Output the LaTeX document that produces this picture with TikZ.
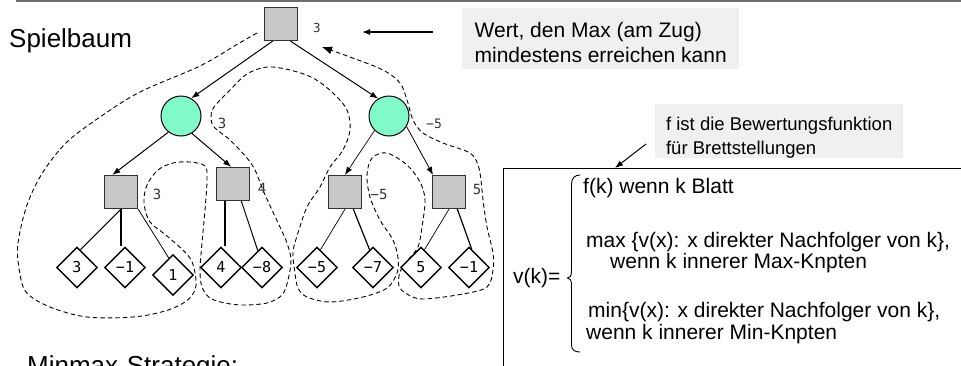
\documentclass[tikz,border=0pt]{standalone}
\usepackage{fontspec}
\setmainfont{Liberation Sans}
\newfontfamily\valfont{DejaVu Sans Mono}
\usetikzlibrary{shapes.geometric,arrows.meta}

\definecolor{minfill}{RGB}{127,250,200}
\definecolor{maxfill}{RGB}{200,200,200}
\definecolor{notefill}{RGB}{240,240,240}
\definecolor{rulegray}{RGB}{110,110,110}

\tikzset{
  maxnode/.style={draw=black!80, line width=1.2pt, fill=maxfill,
    minimum size=33pt, inner sep=0pt},
  minnode/.style={circle, draw=black, line width=1pt, fill=minfill,
    minimum size=40pt, inner sep=0pt},
  leaf/.style={diamond, draw=black, line width=1.4pt, fill=white,
    minimum width=41pt, minimum height=41pt, inner sep=0pt,
    font=\valfont\fontsize{15}{15}\selectfont},
  val/.style={inner sep=0pt, text=black!80,
    font=\valfont\fontsize{14}{14}\selectfont},
  tip/.style={-{Latex[length=8pt,width=6pt]}},
  treeedge/.style={tip, line width=1pt},
  note/.style={fill=notefill, anchor=north west, inner sep=0pt, align=left},
  deftext/.style={anchor=base west, inner sep=0pt,
    font=\fontsize{21}{21}\selectfont},
  walk/.style={dash pattern=on 4.5pt off 3pt, line width=0.9pt,
    -{Latex[length=10pt,width=8pt]}}
}

\begin{document}
\begin{tikzpicture}[x=1pt, y=-1pt]
\useasboundingbox (0,0) rectangle (961,365);
\clip (0,0) rectangle (961,365);

% header rule
\draw[rulegray, line width=2pt] (16,1) -- (961,1);

% depth-first evaluation walk around the tree
\draw[walk] plot[smooth, tension=0.55] coordinates {
  (257,33) (236,45) (200,66) (140,92) (100,117) (67,142) (43,172)
  (27,205) (18,243) (19,268) (26,292) (50,307) (87,317) (133,317)
  (165,311) (185,302) (194,292) (196,280) (190,258) (167,236)
  (150,222) (144,203) (147,185) (158,170) (173,163) (190,162)
  (205,166) (207,180) (205,210) (202,243) (200,270) (202,287)
  (210,298) (225,303) (243,305) (267,303) (282,295) (288,280)
  (291,260) (287,243) (280,227) (272,210) (263,190) (255,170)
  (247,158) (230,140) (214,127) (211,117) (214,107) (230,90)
  (247,74) (267,67) (290,70) (313,78) (333,93) (347,110) (350,130)
  (343,150) (330,167) (320,187) (307,207) (298,233) (293,252)
  (295,273) (298,288) (307,297) (330,302) (363,297) (387,288)
  (397,273) (398,258) (393,240) (380,220) (370,197) (367,175)
  (372,158) (387,153) (407,165) (420,182) (425,200) (422,227)
  (418,247) (408,260) (400,272) (399,286) (407,294) (423,299)
  (463,294) (487,287) (493,270) (493,253) (487,227) (483,200)
  (481,180) (478,165) (470,153) (443,143) (423,133) (413,120)
  (407,100) (400,83) (383,70) (350,57) (322,47)};

% tree nodes
\node[maxnode] (root) at (281,24) {};
\node[minnode] (c1) at (181,116) {};
\node[minnode] (c2) at (389,116) {};
\node[maxnode] (s1) at (121,192) {};
\node[maxnode] (s2) at (233,184) {};
\node[maxnode] (s3) at (345,192) {};
\node[maxnode] (s4) at (449,192) {};

\node[leaf] (l1) at (77,267.5) {3};
\node[leaf] (l2) at (125,267.5) {−1};
\node[leaf] (l3) at (173,275) {1};
\node[leaf] (l4) at (221,267.5) {4};
\node[leaf] (l5) at (262,267.5) {−8};
\node[leaf] (l6) at (317,267.5) {−5};
\node[leaf] (l7) at (373,267.5) {−7};
\node[leaf] (l8) at (421,267.5) {5};
\node[leaf] (l9) at (469,267.5) {−1};

% backed-up values
\node[val, font=\valfont\fontsize{12.5}{12.5}\selectfont] (vroot) at (317,28) {3};
\node[val] (vc1) at (222,123) {3};
\node[val, font=\valfont\fontsize{13}{13}\selectfont] (vc2) at (434,124) {−5};
\node[val] (vs1) at (157,194) {3};
\node[val] (vs2) at (262,188) {4};
\node[val] (vs3) at (379,194) {−5};
\node[val] (vs4) at (477,189) {5};

% tree edges
\draw[treeedge] (root.244) -- (c1.60);
\draw[treeedge] (root.299) -- (c2.122);
\draw[treeedge] (c1.232) -- (s1.117);
\draw[treeedge] (c1.302) -- (s2.96);
\draw[treeedge, line width=0.7pt] (c2.225) -- (s3.90);
\draw[treeedge, line width=0.8pt] (c2.329) -- (s4.133);

\draw[line width=1pt] (s1.south) -- (l1.79);
\draw[line width=2.2pt] (s1.south) -- (s1.south |- l2.north);
\draw[line width=0.8pt] (s1.south east) -- (l3.104);
\draw[line width=2.2pt] (s2.245) -- (s2.245 |- l4.north);
\draw[line width=1pt] (s2.296) -- (l5.104);
\draw[line width=0.7pt] (s3.south) -- (l6.79);
\draw[line width=1.2pt] (s3.296) -- (l7.101);
\draw[line width=0.7pt] (s4.south) -- (l8.79);
\draw[line width=1.2pt] (s4.296) -- (l9.82);

% titles
\node[anchor=base west, inner sep=0pt, font=\fontsize{26}{26}\selectfont]
  (title) at (9,47) {Spielbaum};
\node[anchor=base west, inner sep=0pt, font=\fontsize{26}{26}\selectfont]
  (strat) at (27,374) {Minmax-Strategie:};

% note on the root value
\node[note, minimum width=277pt,
      font=\fontsize{21}{25}\selectfont] (wert) at (462,8)
  {\rule{0pt}{29pt}Wert, den Max (am Zug)\\
   mindestens erreichen kann\rule[-7pt]{0pt}{7pt}};
\coordinate (wtail) at (433,32);
\coordinate (whead) at (362,32);
\draw[tip, line width=1.3pt] (wtail) -- (whead);

% definition of v(k)
\node[draw=black, line width=1.2pt, anchor=north west, inner sep=0pt,
      minimum width=520pt, minimum height=240pt] (defbox) at (503,168) {};

\node[note, minimum width=248pt,
      font=\fontsize{18.5}{24}\selectfont] (fnote) at (655,104)
  {\rule{0pt}{26pt}f ist die Bewertungsfunktion\\
   für Brettstellungen\rule[-4pt]{0pt}{4pt}};
\coordinate (ftail) at (646,144);
\coordinate (fhead) at ([xshift=112pt]defbox.north west);
\draw[tip, line width=1pt] (ftail) -- (fhead);

\node[deftext] (vk) at (513,283) {v(k)=};
\draw[line width=0.9pt] (580,175) .. controls (575,175) and (571.5,178) .. (571.5,184)
  -- (571.5,271) .. controls (571.5,276) and (570,278) .. (567.5,278)
  .. controls (570,278) and (571.5,280) .. (571.5,285)
  -- (571.5,345) .. controls (571.5,350) and (575,352) .. (580,352);

\node[deftext] (case1) at (583,193) {f(k) wenn k Blatt};
\node[deftext] (case2) at (586,247) {max \{v(x): x direkter Nachfolger von k\},};
\node[deftext] (case2b) at (610,268) {wenn k innerer Max-Knpten};
\node[deftext] (case3) at (588,317) {min\{v(x): x direkter Nachfolger von k\},};
\node[deftext] (case3b) at (586,339) {wenn k innerer Min-Knpten};
\end{tikzpicture}
\end{document}
